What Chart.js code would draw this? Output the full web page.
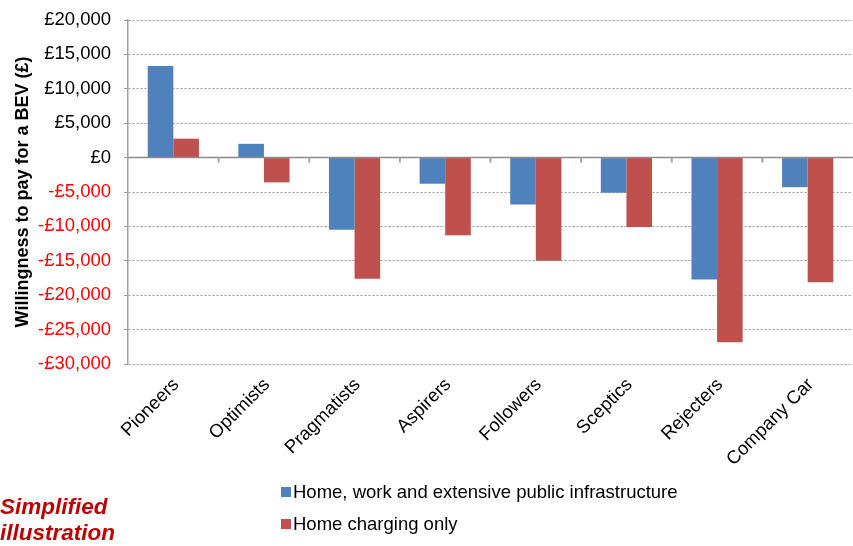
<!DOCTYPE html>
<html>
<head>
<meta charset="utf-8">
<script src="https://cdn.jsdelivr.net/npm/chart.js"></script>
<style>
  body { margin: 0; background: #fff; }
  #wrap { position: relative; width: 853px; height: 546px; overflow: hidden; }
  .leg { position: absolute; left: 281px; font: 18.5px "Liberation Sans", Arial, sans-serif; color: #000; white-space: nowrap; }
  .leg span { display: inline-block; width: 10px; height: 10px; margin-right: 2px; vertical-align: 1px; }
  #note { position: absolute; left: 0; top: 494px; font: italic bold 22.5px "Liberation Sans", Arial, sans-serif; color: #C00000; line-height: 26px; }
</style>
</head>
<body>
<div id="wrap">
  <canvas id="myChart" width="853" height="546"></canvas>
  <div class="leg" id="leg0" style="top:481px"></div>
  <div class="leg" id="leg1" style="top:513px"></div>
  <div id="note">Simplified<br>illustration</div>
</div>
<script>
"use strict";

var segments = ["Pioneers", "Optimists", "Pragmatists", "Aspirers", "Followers", "Sceptics", "Rejecters", "Company Car"];
var seriesNames = ["Home, work and extensive public infrastructure", "Home charging only"];
var fullInfra = [13300, 2000, -10500, -3800, -6800, -5100, -17700, -4300];
var homeOnly = [2750, -3600, -17600, -11300, -15000, -10100, -26850, -18100];
var colours = ["#4F81BD", "#C0504D"];
var yTicks = { min: -30000, max: 20000, step: 5000 };

var font = "'Liberation Sans', Arial, sans-serif";

function money(v) {
  var s = "£" + Math.abs(v).toLocaleString("en-GB");
  return v < 0 ? "-" + s : s;
}

// solid zero line plus the little category ticks hanging off it
var zeroLine = {
  id: "zeroLine",
  afterDatasetsDraw: function (chart) {
    var ctx = chart.ctx;
    var x = chart.scales.x;
    var y0 = chart.scales.y.getPixelForValue(0);
    var area = chart.chartArea;
    ctx.save();
    ctx.strokeStyle = "#8c8c8c";
    ctx.lineWidth = 1.5;
    ctx.beginPath();
    ctx.moveTo(area.left, y0);
    ctx.lineTo(area.right, y0);
    ctx.stroke();
    ctx.lineWidth = 2;
    ctx.strokeStyle = "#a6a6a6";
    for (var i = 0; i < segments.length - 1; i++) {
      var bx = (x.getPixelForTick(i) + x.getPixelForTick(i + 1)) / 2;
      ctx.beginPath();
      ctx.moveTo(bx, y0);
      ctx.lineTo(bx, y0 + 5);
      ctx.stroke();
    }
    ctx.restore();
  }
};

new Chart(document.getElementById("myChart"), {
  type: "bar",
  data: {
    labels: segments,
    datasets: [
      { label: seriesNames[0], data: fullInfra, backgroundColor: colours[0] },
      { label: seriesNames[1], data: homeOnly, backgroundColor: colours[1] }
    ]
  },
  options: {
    responsive: false,
    animation: false,
    layout: { padding: { top: 20, right: -11, left: 0, bottom: 0 } },
    datasets: { bar: { categoryPercentage: 0.565, barPercentage: 1.0 } },
    plugins: { legend: { display: false }, tooltip: { enabled: false } },
    scales: {
      x: {
        grid: { display: false },
        border: { display: false },
        ticks: {
          color: "#000",
          font: { family: font, size: 18.5 },
          minRotation: 45,
          maxRotation: 45,
          padding: 2,
          labelOffset: 3
        },
        afterFit: function (scale) { scale.height = 182; }
      },
      y: {
        min: yTicks.min,
        max: yTicks.max,
        grid: { color: "#9a9a9a", tickLength: 4, lineWidth: 1 },
        border: { display: true, color: "#a0a0a0", width: 1.5, dash: [2, 2] },
        ticks: {
          stepSize: yTicks.step,
          padding: 13,
          font: { family: font, size: 18.5 },
          color: function (c) { return c.tick.value < 0 ? "#FF0000" : "#000"; },
          callback: function (v) { return money(v); }
        },
        title: {
          display: true,
          text: "Willingness to pay for a BEV (£)",
          color: "#000",
          font: { family: font, size: 18, weight: "bold" },
          padding: { top: 12, bottom: 0 }
        },
        afterFit: function (scale) {
          scale.width = 128;
          scale.paddingTop = 0;
          scale.paddingBottom = 0;
        }
      }
    }
  },
  plugins: [zeroLine]
});

document.getElementById("leg0").innerHTML = '<span style="background:' + colours[0] + '"></span>' + seriesNames[0];
document.getElementById("leg1").innerHTML = '<span style="background:' + colours[1] + '"></span>' + seriesNames[1];
</script>
</body>
</html>
